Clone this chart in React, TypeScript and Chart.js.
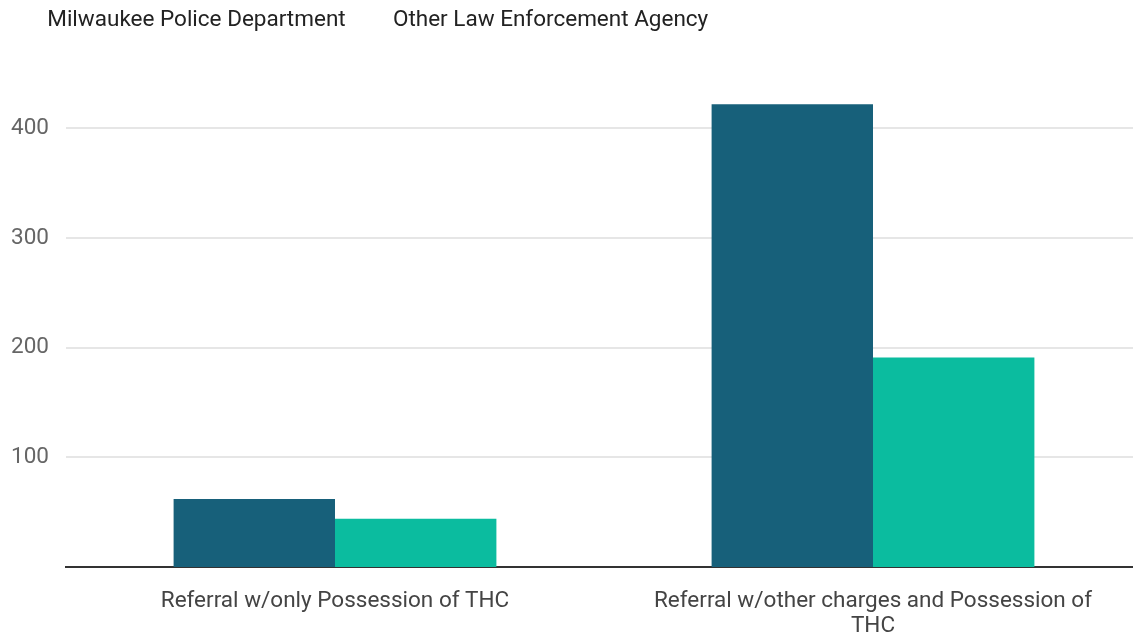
import React, { useEffect, useRef } from "react";
import { Chart, registerables } from "chart.js";

Chart.register(...registerables);

const categories: (string | string[])[] = [
  "Referral w/only Possession of THC",
  ["Referral w/other charges and Possession of", "THC"],
];
const seriesNames = ["Milwaukee Police Department", "Other Law Enforcement Agency"];
const mpdValues = [62, 422];
const otherAgency = [44, 191];
const yTicks = [100, 200, 300, 400];

const COLORS = ["#17607a", "#0bbc9f"];
const FONT = "Roboto";
const FS = 22.5;

export default function App() {
  const ref = useRef<HTMLCanvasElement | null>(null);
  useEffect(() => {
    if (!ref.current) return;
    const legendSpacer = {
      id: "legendSpacer",
      beforeInit(chart: any) {
        const legend = chart.legend;
        if (!legend) return;
        const orig = legend.fit;
        legend.fit = function () {
          orig.call(this);
          this.height += 32;
        };
      },
    };
    const chart = new Chart(ref.current, {
      type: "bar",
      data: {
        labels: categories,
        datasets: [
          { label: seriesNames[0], data: mpdValues, backgroundColor: COLORS[0] },
          { label: seriesNames[1], data: otherAgency, backgroundColor: COLORS[1] },
        ],
      },
      plugins: [legendSpacer],
      options: {
        animation: false,
        responsive: true,
        maintainAspectRatio: false,
        layout: { padding: { left: 0, right: 3, top: 0, bottom: 0 } },
        datasets: { bar: { categoryPercentage: 0.6, barPercentage: 1 } },
        plugins: {
          tooltip: { enabled: false },
          legend: {
            position: "top",
            align: "start",
            labels: {
              boxWidth: 27,
              boxHeight: 0,
              padding: 9,
              color: "#222",
              font: { family: FONT, size: FS },
              generateLabels(chart: any) {
                const items = Chart.defaults.plugins.legend.labels.generateLabels(chart);
                return items.map((it: any) => ({
                  ...it,
                  fillStyle: "rgba(0,0,0,0)",
                  strokeStyle: "rgba(0,0,0,0)",
                  lineWidth: 0,
                }));
              },
            },
          },
        },
        scales: {
          x: {
            grid: { display: false },
            border: { display: true, color: "#333", width: 2 },
            afterFit(scale: any) {
              scale.height = 71;
            },
            ticks: {
              color: "#444",
              font: { family: FONT, size: FS, lineHeight: 1.1 },
              padding: 14,
              maxRotation: 0,
              autoSkip: false,
            },
          },
          y: {
            min: 0,
            max: 450,
            afterBuildTicks(scale: any) {
              scale.ticks = yTicks.map((v) => ({ value: v }));
            },
            afterFit(scale: any) {
              scale.width = 66;
            },
            grid: { color: "#e6e6e6", lineWidth: 2, drawTicks: false },
            border: { display: false },
            ticks: {
              color: "#666",
              font: { family: FONT, size: FS },
              padding: 17,
            },
          },
        },
      },
    });
    return () => chart.destroy();
  }, []);
  return (
    <div style={{ position: "absolute", left: 0, top: 0, width: 1145, height: 638, background: "#fff" }}>
      <canvas ref={ref} />
    </div>
  );
}
